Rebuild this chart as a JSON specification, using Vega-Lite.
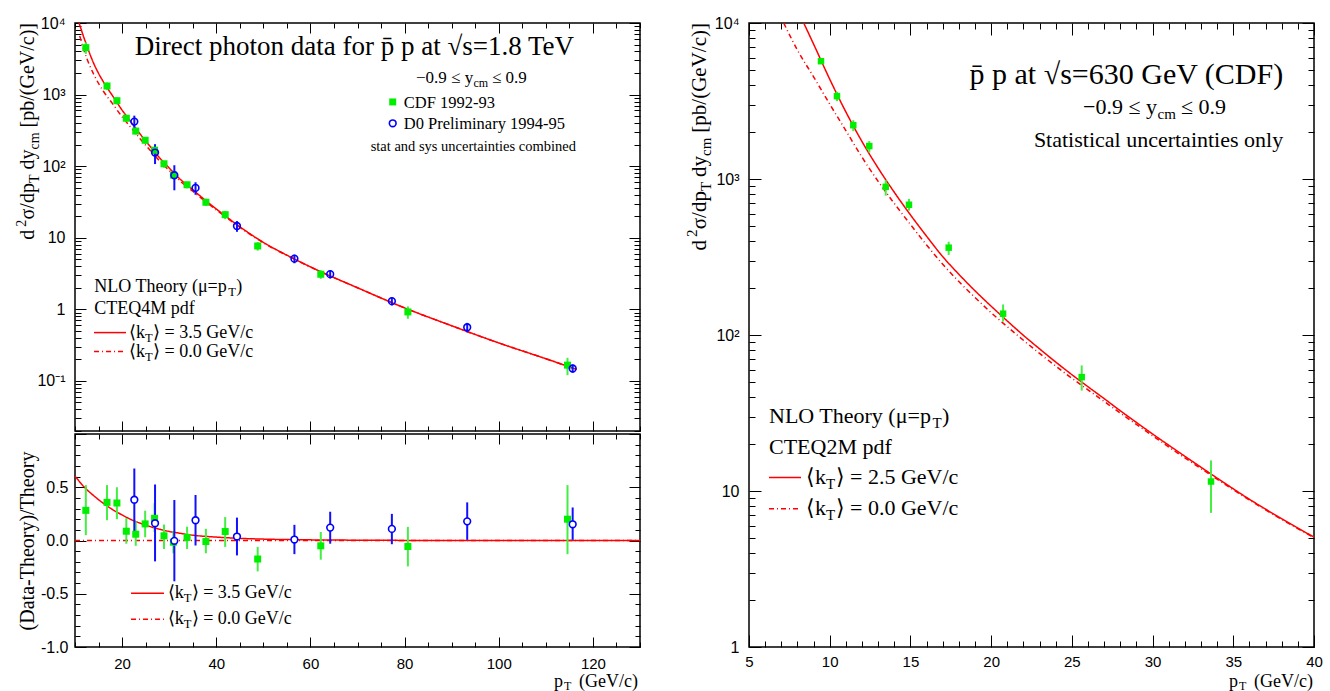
{
  "$schema": "https://vega.github.io/schema/vega-lite/v6.json",
  "background": "white",
  "padding": {"left": 14, "top": 14, "right": 5, "bottom": 0},
  "config": {
    "view": {"stroke": "black", "strokeWidth": 1.5},
    "axis": {"domain": false, "grid": false, "tickColor": "black", "tickWidth": 1, "labelFont": "Liberation Sans", "labelFontSize": 16, "labelColor": "black", "titleFont": "Liberation Serif", "titleFontWeight": "normal", "titleColor": "black", "titleFontSize": 20, "labelOverlap": false, "labelFlush": false},
    "text": {"font": "Liberation Serif", "color": "black"}
  },
  "datasets": {
    "photon18": [
      {"exp": "CDF", "pt": 12.3, "val": 4520, "lo": 3700, "hi": 5355},
      {"exp": "CDF", "pt": 16.8, "val": 1318, "lo": 1154, "hi": 1474},
      {"exp": "CDF", "pt": 18.9, "val": 822, "lo": 730, "hi": 912},
      {"exp": "CDF", "pt": 20.9, "val": 467, "lo": 417, "hi": 520},
      {"exp": "CDF", "pt": 22.9, "val": 309, "lo": 277, "hi": 345},
      {"exp": "CDF", "pt": 24.9, "val": 230, "lo": 205, "hi": 255},
      {"exp": "CDF", "pt": 26.9, "val": 167, "lo": 149, "hi": 186},
      {"exp": "CDF", "pt": 28.9, "val": 108, "lo": 95, "hi": 118},
      {"exp": "CDF", "pt": 30.9, "val": 75, "lo": 67, "hi": 83},
      {"exp": "CDF", "pt": 33.8, "val": 55, "lo": 49, "hi": 60.5},
      {"exp": "CDF", "pt": 37.8, "val": 31.3, "lo": 27.8, "hi": 35.1},
      {"exp": "CDF", "pt": 41.9, "val": 21, "lo": 18.2, "hi": 23.7},
      {"exp": "CDF", "pt": 48.8, "val": 7.67, "lo": 6.6, "hi": 8.7},
      {"exp": "CDF", "pt": 62.2, "val": 3.09, "lo": 2.67, "hi": 3.51},
      {"exp": "CDF", "pt": 80.7, "val": 0.92, "lo": 0.738, "hi": 1.1},
      {"exp": "CDF", "pt": 114.6, "val": 0.166, "lo": 0.12, "hi": 0.21},
      {"exp": "D0", "pt": 22.6, "val": 419, "lo": 328, "hi": 508},
      {"exp": "D0", "pt": 27.0, "val": 155, "lo": 107, "hi": 203},
      {"exp": "D0", "pt": 31.1, "val": 74.6, "lo": 46, "hi": 103},
      {"exp": "D0", "pt": 35.6, "val": 49.7, "lo": 39.8, "hi": 59.6},
      {"exp": "D0", "pt": 44.4, "val": 14.6, "lo": 12.1, "hi": 17.1},
      {"exp": "D0", "pt": 56.6, "val": 5.1, "lo": 4.4, "hi": 5.79},
      {"exp": "D0", "pt": 64.2, "val": 3.1, "lo": 2.69, "hi": 3.52},
      {"exp": "D0", "pt": 77.3, "val": 1.3, "lo": 1.13, "hi": 1.46},
      {"exp": "D0", "pt": 93.3, "val": 0.562, "lo": 0.479, "hi": 0.646},
      {"exp": "D0", "pt": 115.7, "val": 0.149, "lo": 0.13, "hi": 0.169}
    ],
    "theory18": [
      {"curve": "kt35", "pt": 10.8, "val": 10300}, {"curve": "kt35", "pt": 12, "val": 5970}, {"curve": "kt35", "pt": 14, "val": 2704}, {"curve": "kt35", "pt": 16, "val": 1514}, {"curve": "kt35", "pt": 18, "val": 957}, {"curve": "kt35", "pt": 20, "val": 607}, {"curve": "kt35", "pt": 22, "val": 405}, {"curve": "kt35", "pt": 24, "val": 272}, {"curve": "kt35", "pt": 26, "val": 187.5}, {"curve": "kt35", "pt": 28, "val": 129.7}, {"curve": "kt35", "pt": 30, "val": 94.4}, {"curve": "kt35", "pt": 32, "val": 69.0}, {"curve": "kt35", "pt": 35, "val": 46.9}, {"curve": "kt35", "pt": 38, "val": 32.1}, {"curve": "kt35", "pt": 42, "val": 20.0}, {"curve": "kt35", "pt": 46, "val": 12.8}, {"curve": "kt35", "pt": 50, "val": 8.63}, {"curve": "kt35", "pt": 56, "val": 5.28}, {"curve": "kt35", "pt": 62, "val": 3.40}, {"curve": "kt35", "pt": 70, "val": 2.0}, {"curve": "kt35", "pt": 80, "val": 1.047}, {"curve": "kt35", "pt": 90, "val": 0.589}, {"curve": "kt35", "pt": 100, "val": 0.339}, {"curve": "kt35", "pt": 110, "val": 0.204}, {"curve": "kt35", "pt": 116.5, "val": 0.145},
      {"curve": "kt0", "pt": 11.0, "val": 6600}, {"curve": "kt0", "pt": 12, "val": 3981}, {"curve": "kt0", "pt": 14, "val": 1905}, {"curve": "kt0", "pt": 16, "val": 1122}, {"curve": "kt0", "pt": 18, "val": 741}, {"curve": "kt0", "pt": 20, "val": 490}, {"curve": "kt0", "pt": 22, "val": 339}, {"curve": "kt0", "pt": 24, "val": 234}, {"curve": "kt0", "pt": 26, "val": 166}, {"curve": "kt0", "pt": 28, "val": 117.5}, {"curve": "kt0", "pt": 30, "val": 87.1}, {"curve": "kt0", "pt": 32, "val": 64.6}, {"curve": "kt0", "pt": 35, "val": 44.7}, {"curve": "kt0", "pt": 38, "val": 30.9}, {"curve": "kt0", "pt": 42, "val": 19.5}, {"curve": "kt0", "pt": 46, "val": 12.6}, {"curve": "kt0", "pt": 50, "val": 8.51}, {"curve": "kt0", "pt": 56, "val": 5.25}, {"curve": "kt0", "pt": 62, "val": 3.39}, {"curve": "kt0", "pt": 70, "val": 2.0}, {"curve": "kt0", "pt": 80, "val": 1.047}, {"curve": "kt0", "pt": 90, "val": 0.589}, {"curve": "kt0", "pt": 100, "val": 0.339}, {"curve": "kt0", "pt": 110, "val": 0.204}, {"curve": "kt0", "pt": 116.5, "val": 0.145}
    ],
    "ratio18": [
      {"exp": "CDF", "pt": 12.3, "r": 0.283, "lo": 0.05, "hi": 0.52},
      {"exp": "CDF", "pt": 16.8, "r": 0.358, "lo": 0.19, "hi": 0.52},
      {"exp": "CDF", "pt": 18.9, "r": 0.352, "lo": 0.2, "hi": 0.5},
      {"exp": "CDF", "pt": 20.9, "r": 0.087, "lo": -0.03, "hi": 0.21},
      {"exp": "CDF", "pt": 22.9, "r": 0.059, "lo": -0.05, "hi": 0.18},
      {"exp": "CDF", "pt": 24.9, "r": 0.156, "lo": 0.03, "hi": 0.28},
      {"exp": "CDF", "pt": 26.9, "r": 0.208, "lo": 0.08, "hi": 0.35},
      {"exp": "CDF", "pt": 28.9, "r": 0.044, "lo": -0.08, "hi": 0.15},
      {"exp": "CDF", "pt": 30.9, "r": -0.016, "lo": -0.12, "hi": 0.09},
      {"exp": "CDF", "pt": 33.8, "r": 0.028, "lo": -0.08, "hi": 0.13},
      {"exp": "CDF", "pt": 37.8, "r": -0.01, "lo": -0.12, "hi": 0.11},
      {"exp": "CDF", "pt": 41.9, "r": 0.084, "lo": -0.06, "hi": 0.22},
      {"exp": "CDF", "pt": 48.8, "r": -0.174, "lo": -0.29, "hi": -0.06},
      {"exp": "CDF", "pt": 62.2, "r": -0.05, "lo": -0.18, "hi": 0.08},
      {"exp": "CDF", "pt": 80.7, "r": -0.056, "lo": -0.243, "hi": 0.128},
      {"exp": "CDF", "pt": 114.6, "r": 0.2, "lo": -0.128, "hi": 0.52},
      {"exp": "D0", "pt": 22.6, "r": 0.383, "lo": 0.084, "hi": 0.676},
      {"exp": "D0", "pt": 27.0, "r": 0.162, "lo": -0.196, "hi": 0.526},
      {"exp": "D0", "pt": 31.1, "r": -0.003, "lo": -0.383, "hi": 0.38},
      {"exp": "D0", "pt": 35.6, "r": 0.19, "lo": -0.047, "hi": 0.427},
      {"exp": "D0", "pt": 44.4, "r": 0.037, "lo": -0.14, "hi": 0.215},
      {"exp": "D0", "pt": 56.6, "r": 0.009, "lo": -0.128, "hi": 0.147},
      {"exp": "D0", "pt": 64.2, "r": 0.121, "lo": -0.03, "hi": 0.27},
      {"exp": "D0", "pt": 77.3, "r": 0.109, "lo": -0.035, "hi": 0.25},
      {"exp": "D0", "pt": 93.3, "r": 0.18, "lo": 0.006, "hi": 0.358},
      {"exp": "D0", "pt": 115.7, "r": 0.152, "lo": 0.006, "hi": 0.31}
    ],
    "ratiotheory18": [
      {"curve": "kt35", "pt": 10, "r": 0.605}, {"curve": "kt35", "pt": 12, "r": 0.50}, {"curve": "kt35", "pt": 14, "r": 0.42}, {"curve": "kt35", "pt": 16, "r": 0.35}, {"curve": "kt35", "pt": 18, "r": 0.29}, {"curve": "kt35", "pt": 20, "r": 0.24}, {"curve": "kt35", "pt": 22, "r": 0.195}, {"curve": "kt35", "pt": 24, "r": 0.16}, {"curve": "kt35", "pt": 26, "r": 0.13}, {"curve": "kt35", "pt": 28, "r": 0.105}, {"curve": "kt35", "pt": 30, "r": 0.085}, {"curve": "kt35", "pt": 32, "r": 0.07}, {"curve": "kt35", "pt": 35, "r": 0.05}, {"curve": "kt35", "pt": 40, "r": 0.032}, {"curve": "kt35", "pt": 45, "r": 0.02}, {"curve": "kt35", "pt": 50, "r": 0.013}, {"curve": "kt35", "pt": 60, "r": 0.006}, {"curve": "kt35", "pt": 70, "r": 0.003}, {"curve": "kt35", "pt": 80, "r": 0.001}, {"curve": "kt35", "pt": 100, "r": 0}, {"curve": "kt35", "pt": 130, "r": 0},
      {"curve": "kt0", "pt": 10, "r": 0}, {"curve": "kt0", "pt": 130, "r": 0}
    ],
    "photon630": [
      {"exp": "CDF", "pt": 9.46, "val": 5690, "lo": 5470, "hi": 5920},
      {"exp": "CDF", "pt": 10.45, "val": 3398, "lo": 3155, "hi": 3622},
      {"exp": "CDF", "pt": 11.46, "val": 2213, "lo": 2028, "hi": 2382},
      {"exp": "CDF", "pt": 12.45, "val": 1626, "lo": 1479, "hi": 1750},
      {"exp": "CDF", "pt": 13.47, "val": 891, "lo": 782, "hi": 984},
      {"exp": "CDF", "pt": 14.91, "val": 684, "lo": 627, "hi": 745},
      {"exp": "CDF", "pt": 17.37, "val": 363, "lo": 326, "hi": 396},
      {"exp": "CDF", "pt": 20.74, "val": 137, "lo": 122, "hi": 157},
      {"exp": "CDF", "pt": 25.61, "val": 53.7, "lo": 44.0, "hi": 63.8},
      {"exp": "CDF", "pt": 33.62, "val": 11.5, "lo": 7.24, "hi": 15.7}
    ],
    "theory630": [
      {"curve": "kt25", "pt": 8.39, "val": 10000}, {"curve": "kt25", "pt": 9, "val": 7328}, {"curve": "kt25", "pt": 10, "val": 4365}, {"curve": "kt25", "pt": 11, "val": 2692}, {"curve": "kt25", "pt": 12, "val": 1738}, {"curve": "kt25", "pt": 13, "val": 1175}, {"curve": "kt25", "pt": 14, "val": 822}, {"curve": "kt25", "pt": 15, "val": 589}, {"curve": "kt25", "pt": 16, "val": 430}, {"curve": "kt25", "pt": 17, "val": 318}, {"curve": "kt25", "pt": 18, "val": 245}, {"curve": "kt25", "pt": 19, "val": 192}, {"curve": "kt25", "pt": 20, "val": 153}, {"curve": "kt25", "pt": 21, "val": 123}, {"curve": "kt25", "pt": 22, "val": 99.5}, {"curve": "kt25", "pt": 23, "val": 81.5}, {"curve": "kt25", "pt": 24, "val": 67.1}, {"curve": "kt25", "pt": 25, "val": 55.7}, {"curve": "kt25", "pt": 26, "val": 46.6}, {"curve": "kt25", "pt": 27, "val": 39.1}, {"curve": "kt25", "pt": 28, "val": 32.7}, {"curve": "kt25", "pt": 29, "val": 27.5}, {"curve": "kt25", "pt": 30, "val": 23.2}, {"curve": "kt25", "pt": 32, "val": 16.7}, {"curve": "kt25", "pt": 34, "val": 12.1}, {"curve": "kt25", "pt": 36, "val": 8.85}, {"curve": "kt25", "pt": 38, "val": 6.64}, {"curve": "kt25", "pt": 40, "val": 5.06},
      {"curve": "kt0", "pt": 7.15, "val": 10000}, {"curve": "kt0", "pt": 8, "val": 6700}, {"curve": "kt0", "pt": 9, "val": 4519}, {"curve": "kt0", "pt": 10, "val": 3020}, {"curve": "kt0", "pt": 11, "val": 2042}, {"curve": "kt0", "pt": 12, "val": 1380}, {"curve": "kt0", "pt": 13, "val": 966}, {"curve": "kt0", "pt": 14, "val": 697}, {"curve": "kt0", "pt": 15, "val": 511}, {"curve": "kt0", "pt": 16, "val": 378}, {"curve": "kt0", "pt": 17, "val": 284}, {"curve": "kt0", "pt": 18, "val": 220}, {"curve": "kt0", "pt": 19, "val": 174}, {"curve": "kt0", "pt": 20, "val": 139}, {"curve": "kt0", "pt": 21, "val": 113}, {"curve": "kt0", "pt": 22, "val": 92.5}, {"curve": "kt0", "pt": 23, "val": 76.2}, {"curve": "kt0", "pt": 24, "val": 63.2}, {"curve": "kt0", "pt": 25, "val": 52.8}, {"curve": "kt0", "pt": 26, "val": 44.5}, {"curve": "kt0", "pt": 27, "val": 37.5}, {"curve": "kt0", "pt": 28, "val": 31.6}, {"curve": "kt0", "pt": 29, "val": 26.7}, {"curve": "kt0", "pt": 30, "val": 22.6}, {"curve": "kt0", "pt": 32, "val": 16.3}, {"curve": "kt0", "pt": 34, "val": 11.9}, {"curve": "kt0", "pt": 36, "val": 8.75}, {"curve": "kt0", "pt": 38, "val": 6.58}, {"curve": "kt0", "pt": 40, "val": 5.02}
    ]
  },
  "align": "each",
  "spacing": 42,
  "hconcat": [
    {
      "bounds": "flush",
      "spacing": 3,
      "vconcat": [
        {
          "width": 565, "height": 408,
          "resolve": {"axis": {"x": "independent", "y": "independent"}},
          "layer": [
            {
              "data": {"name": "theory18"},
              "mark": {"type": "line", "color": "#ff0000", "strokeWidth": 1.5, "clip": true, "interpolate": "monotone"},
              "encoding": {
                "x": {"field": "pt", "type": "quantitative", "scale": {"domain": [10, 130], "nice": false, "zero": false},
                      "axis": {"orient": "bottom", "title": null, "labels": false, "values": [10,15,20,25,30,35,40,45,50,55,60,65,70,75,80,85,90,95,100,105,110,115,120,125,130], "tickSize": {"condition": {"test": "datum.value % 20 === 0", "value": -10}, "value": -5}}},
                "y": {"field": "val", "type": "quantitative", "scale": {"type": "log", "domain": [0.01995, 10000], "nice": false},
                      "axis": {"orient": "left", "title": null, "labelPadding": 21, "values": [0.02,0.03,0.04,0.05,0.06,0.07,0.08,0.09,0.1,0.2,0.3,0.4,0.5,0.6,0.7,0.8,0.9,1,2,3,4,5,6,7,8,9,10,20,30,40,50,60,70,80,90,100,200,300,400,500,600,700,800,900,1000,2000,3000,4000,5000,6000,7000,8000,9000,10000],
                               "labelExpr": "datum.value === 10000 ? '10⁴' : datum.value === 1000 ? '10³' : datum.value === 100 ? '10²' : datum.value === 10 ? '10' : datum.value === 1 ? '1' : datum.value === 0.1 ? '10⁻¹' : ''",
                               "tickSize": {"condition": {"test": "indexof([0.1,1,10,100,1000,10000], datum.value) >= 0", "value": -11}, "value": -6}}},
                "strokeDash": {"field": "curve", "type": "nominal", "scale": {"domain": ["kt35", "kt0"], "range": [[1, 0], [5, 3, 1, 3]]}, "legend": null}
              }
            },
            {
              "data": {"name": "photon18"},
              "mark": {"type": "rule", "strokeWidth": 2},
              "encoding": {
                "x": {"field": "pt", "type": "quantitative", "axis": {"orient": "top", "title": null, "labels": false, "values": [10,15,20,25,30,35,40,45,50,55,60,65,70,75,80,85,90,95,100,105,110,115,120,125,130], "tickSize": {"condition": {"test": "datum.value % 20 === 0", "value": -10}, "value": -5}}},
                "y": {"field": "lo", "type": "quantitative", "axis": {"orient": "right", "title": null, "labels": false, "values": [0.02,0.03,0.04,0.05,0.06,0.07,0.08,0.09,0.1,0.2,0.3,0.4,0.5,0.6,0.7,0.8,0.9,1,2,3,4,5,6,7,8,9,10,20,30,40,50,60,70,80,90,100,200,300,400,500,600,700,800,900,1000,2000,3000,4000,5000,6000,7000,8000,9000,10000], "tickSize": {"condition": {"test": "indexof([0.1,1,10,100,1000,10000], datum.value) >= 0", "value": -11}, "value": -6}}},
                "y2": {"field": "hi"},
                "color": {"field": "exp", "type": "nominal", "scale": {"domain": ["CDF", "D0"], "range": ["#44ee44", "#1111ff"]}, "legend": null}
              }
            },
            {
              "data": {"name": "photon18"},
              "transform": [{"filter": "datum.exp === 'CDF'"}],
              "mark": {"type": "square", "color": "#00ee00", "size": 49, "opacity": 1},
              "encoding": {"x": {"field": "pt", "type": "quantitative", "axis": null}, "y": {"field": "val", "type": "quantitative", "axis": null}}
            },
            {
              "data": {"name": "photon18"},
              "transform": [{"filter": "datum.exp === 'D0'"}],
              "mark": {"type": "point", "shape": "circle", "filled": false, "color": "#0000ff", "strokeWidth": 1.6, "size": 45, "opacity": 1},
              "encoding": {"x": {"field": "pt", "type": "quantitative", "axis": null}, "y": {"field": "val", "type": "quantitative", "axis": null}}
            },
            {"data": {"values": [{}]}, "mark": {"type": "text", "text": "Direct photon data for p̄ p at √s=1.8 TeV", "fontSize": 27, "align": "right", "baseline": "alphabetic"},
             "encoding": {"x": {"datum": 116.0, "type": "quantitative", "axis": null}, "y": {"datum": 3573, "type": "quantitative", "axis": null}}},
            {"data": {"values": [{}]}, "mark": {"type": "text", "text": "−0.9 ≤ y", "fontSize": 17, "align": "left", "baseline": "alphabetic"},
             "encoding": {"x": {"datum": 82.43, "type": "quantitative", "axis": null}, "y": {"datum": 1452, "type": "quantitative", "axis": null}}},
            {"data": {"values": [{}]}, "mark": {"type": "text", "text": "cm", "fontSize": 12, "align": "left", "baseline": "alphabetic", "dx": 57.5, "dy": 4},
             "encoding": {"x": {"datum": 82.43, "type": "quantitative", "axis": null}, "y": {"datum": 1452, "type": "quantitative", "axis": null}}},
            {"data": {"values": [{}]}, "mark": {"type": "text", "text": "≤ 0.9", "fontSize": 17, "align": "left", "baseline": "alphabetic", "dx": 76},
             "encoding": {"x": {"datum": 82.43, "type": "quantitative", "axis": null}, "y": {"datum": 1452, "type": "quantitative", "axis": null}}},
            {"data": {"values": [{}]}, "mark": {"type": "square", "color": "#00ee00", "size": 49, "opacity": 1},
             "encoding": {"x": {"datum": 77.48, "type": "quantitative", "axis": null}, "y": {"datum": 789, "type": "quantitative", "axis": null}}},
            {"data": {"values": [{}]}, "mark": {"type": "text", "text": "CDF 1992-93", "fontSize": 16.5, "align": "left", "baseline": "middle", "dx": 11, "dy": 1},
             "encoding": {"x": {"datum": 77.48, "type": "quantitative", "axis": null}, "y": {"datum": 789, "type": "quantitative", "axis": null}}},
            {"data": {"values": [{}]}, "mark": {"type": "point", "shape": "circle", "filled": false, "color": "#0000ff", "strokeWidth": 1.6, "size": 45, "opacity": 1},
             "encoding": {"x": {"datum": 77.48, "type": "quantitative", "axis": null}, "y": {"datum": 397, "type": "quantitative", "axis": null}}},
            {"data": {"values": [{}]}, "mark": {"type": "text", "text": "D0 Preliminary 1994-95", "fontSize": 16.5, "align": "left", "baseline": "middle", "dx": 11, "dy": 1},
             "encoding": {"x": {"datum": 77.48, "type": "quantitative", "axis": null}, "y": {"datum": 397, "type": "quantitative", "axis": null}}},
            {"data": {"values": [{}]}, "mark": {"type": "text", "text": "stat and sys uncertainties combined", "fontSize": 14.5, "align": "right", "baseline": "alphabetic"},
             "encoding": {"x": {"datum": 116.41, "type": "quantitative", "axis": null}, "y": {"datum": 163, "type": "quantitative", "axis": null}}},
            {"data": {"values": [{}]}, "mark": {"type": "text", "text": "NLO Theory (μ=p", "fontSize": 18, "align": "left", "baseline": "alphabetic"},
             "encoding": {"x": {"datum": 14.1, "type": "quantitative", "axis": null}, "y": {"datum": 1.766, "type": "quantitative", "axis": null}}},
            {"data": {"values": [{}]}, "mark": {"type": "text", "text": "T", "fontSize": 12.5, "align": "left", "baseline": "alphabetic", "dx": 134, "dy": 4},
             "encoding": {"x": {"datum": 14.1, "type": "quantitative", "axis": null}, "y": {"datum": 1.766, "type": "quantitative", "axis": null}}},
            {"data": {"values": [{}]}, "mark": {"type": "text", "text": ")", "fontSize": 18, "align": "left", "baseline": "alphabetic", "dx": 142},
             "encoding": {"x": {"datum": 14.1, "type": "quantitative", "axis": null}, "y": {"datum": 1.766, "type": "quantitative", "axis": null}}},
            {"data": {"values": [{}]}, "mark": {"type": "text", "text": "CTEQ4M pdf", "fontSize": 18, "align": "left", "baseline": "alphabetic"},
             "encoding": {"x": {"datum": 14.1, "type": "quantitative", "axis": null}, "y": {"datum": 0.855, "type": "quantitative", "axis": null}}},
            {"data": {"values": [{}]}, "mark": {"type": "rule", "color": "#ff0000", "strokeWidth": 1.5},
             "encoding": {"x": {"datum": 14.04, "type": "quantitative", "axis": null}, "x2": {"datum": 20.83}, "y": {"datum": 0.473, "type": "quantitative", "axis": null}}},
            {"data": {"values": [{}]}, "mark": {"type": "text", "text": "⟨k", "fontSize": 18, "align": "left", "baseline": "alphabetic", "dx": 3, "dy": 5},
             "encoding": {"x": {"datum": 20.83, "type": "quantitative", "axis": null}, "y": {"datum": 0.473, "type": "quantitative", "axis": null}}},
            {"data": {"values": [{}]}, "mark": {"type": "text", "text": "T", "fontSize": 12.5, "align": "left", "baseline": "alphabetic", "dx": 19, "dy": 9},
             "encoding": {"x": {"datum": 20.83, "type": "quantitative", "axis": null}, "y": {"datum": 0.473, "type": "quantitative", "axis": null}}},
            {"data": {"values": [{}]}, "mark": {"type": "text", "text": "⟩ = 3.5 GeV/c", "fontSize": 18, "align": "left", "baseline": "alphabetic", "dx": 27, "dy": 5},
             "encoding": {"x": {"datum": 20.83, "type": "quantitative", "axis": null}, "y": {"datum": 0.473, "type": "quantitative", "axis": null}}},
            {"data": {"values": [{}]}, "mark": {"type": "rule", "color": "#ff0000", "strokeWidth": 1.5, "strokeDash": [5, 3, 1, 3]},
             "encoding": {"x": {"datum": 14.04, "type": "quantitative", "axis": null}, "x2": {"datum": 20.83}, "y": {"datum": 0.2565, "type": "quantitative", "axis": null}}},
            {"data": {"values": [{}]}, "mark": {"type": "text", "text": "⟨k", "fontSize": 18, "align": "left", "baseline": "alphabetic", "dx": 3, "dy": 5},
             "encoding": {"x": {"datum": 20.83, "type": "quantitative", "axis": null}, "y": {"datum": 0.2565, "type": "quantitative", "axis": null}}},
            {"data": {"values": [{}]}, "mark": {"type": "text", "text": "T", "fontSize": 12.5, "align": "left", "baseline": "alphabetic", "dx": 19, "dy": 9},
             "encoding": {"x": {"datum": 20.83, "type": "quantitative", "axis": null}, "y": {"datum": 0.2565, "type": "quantitative", "axis": null}}},
            {"data": {"values": [{}]}, "mark": {"type": "text", "text": "⟩ = 0.0 GeV/c", "fontSize": 18, "align": "left", "baseline": "alphabetic", "dx": 27, "dy": 5},
             "encoding": {"x": {"datum": 20.83, "type": "quantitative", "axis": null}, "y": {"datum": 0.2565, "type": "quantitative", "axis": null}}},
            {"data": {"values": [{}]}, "mark": {"type": "text", "text": "[pb/(GeV/c)]", "fontSize": 20, "angle": 270, "align": "right", "baseline": "alphabetic", "dx": 0, "dy": -41},
             "encoding": {"x": {"datum": 10, "type": "quantitative", "axis": null}, "y": {"datum": 10000, "type": "quantitative", "axis": null}}},
            {"data": {"values": [{}]}, "mark": {"type": "text", "text": "cm", "fontSize": 14, "angle": 270, "align": "right", "baseline": "alphabetic", "dx": -109.4, "dy": -36},
             "encoding": {"x": {"datum": 10, "type": "quantitative", "axis": null}, "y": {"datum": 10000, "type": "quantitative", "axis": null}}},
            {"data": {"values": [{}]}, "mark": {"type": "text", "text": "dy", "fontSize": 20, "angle": 270, "align": "right", "baseline": "alphabetic", "dx": -126.5, "dy": -41},
             "encoding": {"x": {"datum": 10, "type": "quantitative", "axis": null}, "y": {"datum": 10000, "type": "quantitative", "axis": null}}},
            {"data": {"values": [{}]}, "mark": {"type": "text", "text": "T", "fontSize": 14, "angle": 270, "align": "right", "baseline": "alphabetic", "dx": -151.5, "dy": -36},
             "encoding": {"x": {"datum": 10, "type": "quantitative", "axis": null}, "y": {"datum": 10000, "type": "quantitative", "axis": null}}},
            {"data": {"values": [{}]}, "mark": {"type": "text", "text": "σ/dp", "fontSize": 20, "angle": 270, "align": "right", "baseline": "alphabetic", "dx": -160.1, "dy": -41},
             "encoding": {"x": {"datum": 10, "type": "quantitative", "axis": null}, "y": {"datum": 10000, "type": "quantitative", "axis": null}}},
            {"data": {"values": [{}]}, "mark": {"type": "text", "text": "2", "fontSize": 14, "angle": 270, "align": "right", "baseline": "alphabetic", "dx": -196.7, "dy": -49},
             "encoding": {"x": {"datum": 10, "type": "quantitative", "axis": null}, "y": {"datum": 10000, "type": "quantitative", "axis": null}}},
            {"data": {"values": [{}]}, "mark": {"type": "text", "text": "d", "fontSize": 20, "angle": 270, "align": "right", "baseline": "alphabetic", "dx": -206.7, "dy": -41},
             "encoding": {"x": {"datum": 10, "type": "quantitative", "axis": null}, "y": {"datum": 10000, "type": "quantitative", "axis": null}}}
          ]
        },
        {
          "width": 565, "height": 213,
          "resolve": {"axis": {"x": "independent", "y": "independent"}},
          "layer": [
            {
              "data": {"name": "ratiotheory18"},
              "mark": {"type": "line", "color": "#ff0000", "strokeWidth": 1.5, "clip": true, "interpolate": "monotone"},
              "encoding": {
                "x": {"field": "pt", "type": "quantitative", "scale": {"domain": [10, 130], "nice": false, "zero": false},
                      "axis": {"orient": "bottom", "title": null, "labelPadding": 19, "labelFontSize": 15, "values": [10,15,20,25,30,35,40,45,50,55,60,65,70,75,80,85,90,95,100,105,110,115,120,125,130], "labelExpr": "datum.value % 20 === 0 ? datum.label : ''", "tickSize": {"condition": {"test": "datum.value % 20 === 0", "value": -10}, "value": -5}}},
                "y": {"field": "r", "type": "quantitative", "scale": {"domain": [-1, 1], "nice": false, "zero": false},
                      "axis": {"orient": "left", "title": "(Data-Theory)/Theory", "titlePadding": 3, "labelPadding": 18, "values": [-1,-0.9,-0.8,-0.7,-0.6,-0.5,-0.4,-0.3,-0.2,-0.1,0,0.1,0.2,0.3,0.4,0.5,0.6,0.7,0.8,0.9,1],
                               "labelExpr": "(abs(datum.value * 2 - round(datum.value * 2)) < 0.001 && datum.value < 0.9) ? replace(format(datum.value, '.1f'), '−', '-') : ''",
                               "tickSize": {"condition": {"test": "abs(datum.value * 2 - round(datum.value * 2)) < 0.001", "value": -11}, "value": -5}}},
                "strokeDash": {"field": "curve", "type": "nominal", "scale": {"domain": ["kt35", "kt0"], "range": [[1, 0], [5, 3, 1, 3]]}, "legend": null}
              }
            },
            {
              "data": {"name": "ratio18"},
              "mark": {"type": "rule", "strokeWidth": 2},
              "encoding": {
                "x": {"field": "pt", "type": "quantitative", "axis": {"orient": "top", "title": null, "labels": false, "values": [10,15,20,25,30,35,40,45,50,55,60,65,70,75,80,85,90,95,100,105,110,115,120,125,130], "tickSize": {"condition": {"test": "datum.value % 20 === 0", "value": -10}, "value": -5}}},
                "y": {"field": "lo", "type": "quantitative", "axis": {"orient": "right", "title": null, "labels": false, "values": [-1,-0.9,-0.8,-0.7,-0.6,-0.5,-0.4,-0.3,-0.2,-0.1,0,0.1,0.2,0.3,0.4,0.5,0.6,0.7,0.8,0.9,1], "tickSize": {"condition": {"test": "abs(datum.value * 2 - round(datum.value * 2)) < 0.001", "value": -11}, "value": -5}}},
                "y2": {"field": "hi"},
                "color": {"field": "exp", "type": "nominal", "scale": {"domain": ["CDF", "D0"], "range": ["#44ee44", "#1111ff"]}, "legend": null}
              }
            },
            {
              "data": {"name": "ratio18"},
              "transform": [{"filter": "datum.exp === 'CDF'"}],
              "mark": {"type": "square", "color": "#00ee00", "size": 49, "opacity": 1},
              "encoding": {"x": {"field": "pt", "type": "quantitative", "axis": null}, "y": {"field": "r", "type": "quantitative", "axis": null}}
            },
            {
              "data": {"name": "ratio18"},
              "transform": [{"filter": "datum.exp === 'D0'"}],
              "mark": {"type": "point", "shape": "circle", "filled": true, "fill": "white", "stroke": "#0000ff", "strokeWidth": 1.6, "size": 45, "opacity": 1},
              "encoding": {"x": {"field": "pt", "type": "quantitative", "axis": null}, "y": {"field": "r", "type": "quantitative", "axis": null}}
            },
            {"data": {"values": [{}]}, "mark": {"type": "rule", "color": "#ff0000", "strokeWidth": 1.5},
             "encoding": {"x": {"datum": 21.9, "type": "quantitative", "axis": null}, "x2": {"datum": 28.9}, "y": {"datum": -0.496, "type": "quantitative", "axis": null}}},
            {"data": {"values": [{}]}, "mark": {"type": "text", "text": "⟨k", "fontSize": 18, "align": "left", "baseline": "alphabetic", "dx": 3.7, "dy": 5},
             "encoding": {"x": {"datum": 28.9, "type": "quantitative", "axis": null}, "y": {"datum": -0.496, "type": "quantitative", "axis": null}}},
            {"data": {"values": [{}]}, "mark": {"type": "text", "text": "T", "fontSize": 12.5, "align": "left", "baseline": "alphabetic", "dx": 19.7, "dy": 9},
             "encoding": {"x": {"datum": 28.9, "type": "quantitative", "axis": null}, "y": {"datum": -0.496, "type": "quantitative", "axis": null}}},
            {"data": {"values": [{}]}, "mark": {"type": "text", "text": "⟩ = 3.5 GeV/c", "fontSize": 18, "align": "left", "baseline": "alphabetic", "dx": 27.7, "dy": 5},
             "encoding": {"x": {"datum": 28.9, "type": "quantitative", "axis": null}, "y": {"datum": -0.496, "type": "quantitative", "axis": null}}},
            {"data": {"values": [{}]}, "mark": {"type": "rule", "color": "#ff0000", "strokeWidth": 1.5, "strokeDash": [5, 3, 1, 3]},
             "encoding": {"x": {"datum": 21.9, "type": "quantitative", "axis": null}, "x2": {"datum": 28.9}, "y": {"datum": -0.74, "type": "quantitative", "axis": null}}},
            {"data": {"values": [{}]}, "mark": {"type": "text", "text": "⟨k", "fontSize": 18, "align": "left", "baseline": "alphabetic", "dx": 3.7, "dy": 5},
             "encoding": {"x": {"datum": 28.9, "type": "quantitative", "axis": null}, "y": {"datum": -0.74, "type": "quantitative", "axis": null}}},
            {"data": {"values": [{}]}, "mark": {"type": "text", "text": "T", "fontSize": 12.5, "align": "left", "baseline": "alphabetic", "dx": 19.7, "dy": 9},
             "encoding": {"x": {"datum": 28.9, "type": "quantitative", "axis": null}, "y": {"datum": -0.74, "type": "quantitative", "axis": null}}},
            {"data": {"values": [{}]}, "mark": {"type": "text", "text": "⟩ = 0.0 GeV/c", "fontSize": 18, "align": "left", "baseline": "alphabetic", "dx": 27.7, "dy": 5},
             "encoding": {"x": {"datum": 28.9, "type": "quantitative", "axis": null}, "y": {"datum": -0.74, "type": "quantitative", "axis": null}}},
            {"data": {"values": [{}]}, "mark": {"type": "text", "text": "(GeV/c)", "fontSize": 18, "align": "right", "baseline": "alphabetic", "dx": -2, "dy": 40},
             "encoding": {"x": {"datum": 130, "type": "quantitative", "axis": null}, "y": {"datum": -1, "type": "quantitative", "axis": null}}},
            {"data": {"values": [{}]}, "mark": {"type": "text", "text": "T", "fontSize": 12, "align": "left", "baseline": "alphabetic", "dx": -76, "dy": 43},
             "encoding": {"x": {"datum": 130, "type": "quantitative", "axis": null}, "y": {"datum": -1, "type": "quantitative", "axis": null}}},
            {"data": {"values": [{}]}, "mark": {"type": "text", "text": "p", "fontSize": 18, "align": "left", "baseline": "alphabetic", "dx": -86, "dy": 40},
             "encoding": {"x": {"datum": 130, "type": "quantitative", "axis": null}, "y": {"datum": -1, "type": "quantitative", "axis": null}}}
          ]
        }
      ]
    },
    {
      "width": 565, "height": 624,
      "resolve": {"axis": {"x": "independent", "y": "independent"}},
      "layer": [
        {
          "data": {"name": "theory630"},
          "mark": {"type": "line", "color": "#ff0000", "strokeWidth": 1.5, "clip": true, "interpolate": "monotone"},
          "encoding": {
            "x": {"field": "pt", "type": "quantitative", "scale": {"domain": [5, 40], "nice": false, "zero": false},
                  "axis": {"orient": "bottom", "title": null, "labelPadding": 19, "labelFontSize": 15, "values": [5,6,7,8,9,10,11,12,13,14,15,16,17,18,19,20,21,22,23,24,25,26,27,28,29,30,31,32,33,34,35,36,37,38,39,40], "labelExpr": "datum.value % 5 === 0 ? datum.label : ''", "tickSize": {"condition": {"test": "datum.value % 5 === 0", "value": -12}, "value": -6}}},
            "y": {"field": "val", "type": "quantitative", "scale": {"type": "log", "domain": [1, 10000], "nice": false},
                  "axis": {"orient": "left", "title": null, "labelPadding": 22, "values": [1,2,3,4,5,6,7,8,9,10,20,30,40,50,60,70,80,90,100,200,300,400,500,600,700,800,900,1000,2000,3000,4000,5000,6000,7000,8000,9000,10000],
                           "labelExpr": "datum.value === 10000 ? '10⁴' : datum.value === 1000 ? '10³' : datum.value === 100 ? '10²' : datum.value === 10 ? '10' : datum.value === 1 ? '1' : ''",
                           "tickSize": {"condition": {"test": "indexof([1,10,100,1000,10000], datum.value) >= 0", "value": -12}, "value": -6}}},
            "strokeDash": {"field": "curve", "type": "nominal", "scale": {"domain": ["kt25", "kt0"], "range": [[1, 0], [5, 3, 1, 3]]}, "legend": null}
          }
        },
        {
          "data": {"name": "photon630"},
          "mark": {"type": "rule", "strokeWidth": 2, "color": "#44ee44"},
          "encoding": {
            "x": {"field": "pt", "type": "quantitative", "axis": {"orient": "top", "title": null, "labels": false, "values": [5,6,7,8,9,10,11,12,13,14,15,16,17,18,19,20,21,22,23,24,25,26,27,28,29,30,31,32,33,34,35,36,37,38,39,40], "tickSize": {"condition": {"test": "datum.value % 5 === 0", "value": -12}, "value": -6}}},
            "y": {"field": "lo", "type": "quantitative", "axis": {"orient": "right", "title": null, "labels": false, "values": [1,2,3,4,5,6,7,8,9,10,20,30,40,50,60,70,80,90,100,200,300,400,500,600,700,800,900,1000,2000,3000,4000,5000,6000,7000,8000,9000,10000], "tickSize": {"condition": {"test": "indexof([1,10,100,1000,10000], datum.value) >= 0", "value": -12}, "value": -6}}},
            "y2": {"field": "hi"}
          }
        },
        {
          "data": {"name": "photon630"},
          "mark": {"type": "square", "color": "#00ee00", "size": 42, "opacity": 1},
          "encoding": {"x": {"field": "pt", "type": "quantitative", "axis": null}, "y": {"field": "val", "type": "quantitative", "axis": null}}
        },
        {"data": {"values": [{}]}, "mark": {"type": "text", "text": "p̄ p at √s=630 GeV (CDF)", "fontSize": 30, "align": "right", "baseline": "alphabetic"},
         "encoding": {"x": {"datum": 38.09, "type": "quantitative", "axis": null}, "y": {"datum": 4064, "type": "quantitative", "axis": null}}},
        {"data": {"values": [{}]}, "mark": {"type": "text", "text": "−0.9 ≤ y", "fontSize": 22, "align": "left", "baseline": "alphabetic"},
         "encoding": {"x": {"datum": 25.69, "type": "quantitative", "axis": null}, "y": {"datum": 2611, "type": "quantitative", "axis": null}}},
        {"data": {"values": [{}]}, "mark": {"type": "text", "text": "cm", "fontSize": 15, "align": "left", "baseline": "alphabetic", "dx": 74.5, "dy": 5},
         "encoding": {"x": {"datum": 25.69, "type": "quantitative", "axis": null}, "y": {"datum": 2611, "type": "quantitative", "axis": null}}},
        {"data": {"values": [{}]}, "mark": {"type": "text", "text": "≤ 0.9", "fontSize": 22, "align": "left", "baseline": "alphabetic", "dx": 98},
         "encoding": {"x": {"datum": 25.69, "type": "quantitative", "axis": null}, "y": {"datum": 2611, "type": "quantitative", "axis": null}}},
        {"data": {"values": [{}]}, "mark": {"type": "text", "text": "Statistical uncertainties only", "fontSize": 22, "align": "right", "baseline": "alphabetic"},
         "encoding": {"x": {"datum": 38.09, "type": "quantitative", "axis": null}, "y": {"datum": 1611, "type": "quantitative", "axis": null}}},
        {"data": {"values": [{}]}, "mark": {"type": "text", "text": "NLO Theory (μ=p", "fontSize": 22, "align": "left", "baseline": "alphabetic"},
         "encoding": {"x": {"datum": 6.239, "type": "quantitative", "axis": null}, "y": {"datum": 27.4, "type": "quantitative", "axis": null}}},
        {"data": {"values": [{}]}, "mark": {"type": "text", "text": "T", "fontSize": 15, "align": "left", "baseline": "alphabetic", "dx": 163.5, "dy": 5},
         "encoding": {"x": {"datum": 6.239, "type": "quantitative", "axis": null}, "y": {"datum": 27.4, "type": "quantitative", "axis": null}}},
        {"data": {"values": [{}]}, "mark": {"type": "text", "text": ")", "fontSize": 22, "align": "left", "baseline": "alphabetic", "dx": 173},
         "encoding": {"x": {"datum": 6.239, "type": "quantitative", "axis": null}, "y": {"datum": 27.4, "type": "quantitative", "axis": null}}},
        {"data": {"values": [{}]}, "mark": {"type": "text", "text": "CTEQ2M pdf", "fontSize": 22, "align": "left", "baseline": "alphabetic"},
         "encoding": {"x": {"datum": 6.239, "type": "quantitative", "axis": null}, "y": {"datum": 17.2, "type": "quantitative", "axis": null}}},
        {"data": {"values": [{}]}, "mark": {"type": "rule", "color": "#ff0000", "strokeWidth": 1.5},
         "encoding": {"x": {"datum": 6.239, "type": "quantitative", "axis": null}, "x2": {"datum": 8.222}, "y": {"datum": 12.2, "type": "quantitative", "axis": null}}},
        {"data": {"values": [{}]}, "mark": {"type": "text", "text": "⟨k", "fontSize": 22, "align": "left", "baseline": "alphabetic", "dx": 5, "dy": 6},
         "encoding": {"x": {"datum": 8.222, "type": "quantitative", "axis": null}, "y": {"datum": 12.2, "type": "quantitative", "axis": null}}},
        {"data": {"values": [{}]}, "mark": {"type": "text", "text": "T", "fontSize": 15, "align": "left", "baseline": "alphabetic", "dx": 25, "dy": 11},
         "encoding": {"x": {"datum": 8.222, "type": "quantitative", "axis": null}, "y": {"datum": 12.2, "type": "quantitative", "axis": null}}},
        {"data": {"values": [{}]}, "mark": {"type": "text", "text": "⟩ = 2.5 GeV/c", "fontSize": 22, "align": "left", "baseline": "alphabetic", "dx": 34.5, "dy": 6},
         "encoding": {"x": {"datum": 8.222, "type": "quantitative", "axis": null}, "y": {"datum": 12.2, "type": "quantitative", "axis": null}}},
        {"data": {"values": [{}]}, "mark": {"type": "rule", "color": "#ff0000", "strokeWidth": 1.5, "strokeDash": [5, 3, 1, 3]},
         "encoding": {"x": {"datum": 6.239, "type": "quantitative", "axis": null}, "x2": {"datum": 8.222}, "y": {"datum": 7.7, "type": "quantitative", "axis": null}}},
        {"data": {"values": [{}]}, "mark": {"type": "text", "text": "⟨k", "fontSize": 22, "align": "left", "baseline": "alphabetic", "dx": 5, "dy": 6},
         "encoding": {"x": {"datum": 8.222, "type": "quantitative", "axis": null}, "y": {"datum": 7.7, "type": "quantitative", "axis": null}}},
        {"data": {"values": [{}]}, "mark": {"type": "text", "text": "T", "fontSize": 15, "align": "left", "baseline": "alphabetic", "dx": 25, "dy": 11},
         "encoding": {"x": {"datum": 8.222, "type": "quantitative", "axis": null}, "y": {"datum": 7.7, "type": "quantitative", "axis": null}}},
        {"data": {"values": [{}]}, "mark": {"type": "text", "text": "⟩ = 0.0 GeV/c", "fontSize": 22, "align": "left", "baseline": "alphabetic", "dx": 34.5, "dy": 6},
         "encoding": {"x": {"datum": 8.222, "type": "quantitative", "axis": null}, "y": {"datum": 7.7, "type": "quantitative", "axis": null}}},
        {"data": {"values": [{}]}, "mark": {"type": "text", "text": "[pb/(GeV/c)]", "fontSize": 21, "angle": 270, "align": "right", "baseline": "alphabetic", "dx": 0, "dy": -43},
         "encoding": {"x": {"datum": 5, "type": "quantitative", "axis": null}, "y": {"datum": 10000, "type": "quantitative", "axis": null}}},
        {"data": {"values": [{}]}, "mark": {"type": "text", "text": "cm", "fontSize": 15, "angle": 270, "align": "right", "baseline": "alphabetic", "dx": -114.6, "dy": -38},
         "encoding": {"x": {"datum": 5, "type": "quantitative", "axis": null}, "y": {"datum": 10000, "type": "quantitative", "axis": null}}},
        {"data": {"values": [{}]}, "mark": {"type": "text", "text": "dy", "fontSize": 21, "angle": 270, "align": "right", "baseline": "alphabetic", "dx": -132.9, "dy": -43},
         "encoding": {"x": {"datum": 5, "type": "quantitative", "axis": null}, "y": {"datum": 10000, "type": "quantitative", "axis": null}}},
        {"data": {"values": [{}]}, "mark": {"type": "text", "text": "T", "fontSize": 15, "angle": 270, "align": "right", "baseline": "alphabetic", "dx": -158.9, "dy": -38},
         "encoding": {"x": {"datum": 5, "type": "quantitative", "axis": null}, "y": {"datum": 10000, "type": "quantitative", "axis": null}}},
        {"data": {"values": [{}]}, "mark": {"type": "text", "text": "σ/dp", "fontSize": 21, "angle": 270, "align": "right", "baseline": "alphabetic", "dx": -168.1, "dy": -43},
         "encoding": {"x": {"datum": 5, "type": "quantitative", "axis": null}, "y": {"datum": 10000, "type": "quantitative", "axis": null}}},
        {"data": {"values": [{}]}, "mark": {"type": "text", "text": "2", "fontSize": 15, "angle": 270, "align": "right", "baseline": "alphabetic", "dx": -206.5, "dy": -52},
         "encoding": {"x": {"datum": 5, "type": "quantitative", "axis": null}, "y": {"datum": 10000, "type": "quantitative", "axis": null}}},
        {"data": {"values": [{}]}, "mark": {"type": "text", "text": "d", "fontSize": 21, "angle": 270, "align": "right", "baseline": "alphabetic", "dx": -217, "dy": -43},
         "encoding": {"x": {"datum": 5, "type": "quantitative", "axis": null}, "y": {"datum": 10000, "type": "quantitative", "axis": null}}},
        {"data": {"values": [{}]}, "mark": {"type": "text", "text": "(GeV/c)", "fontSize": 18, "align": "right", "baseline": "alphabetic", "dx": -1, "dy": 40},
         "encoding": {"x": {"datum": 40, "type": "quantitative", "axis": null}, "y": {"datum": 1, "type": "quantitative", "axis": null}}},
        {"data": {"values": [{}]}, "mark": {"type": "text", "text": "T", "fontSize": 12, "align": "left", "baseline": "alphabetic", "dx": -75, "dy": 43},
         "encoding": {"x": {"datum": 40, "type": "quantitative", "axis": null}, "y": {"datum": 1, "type": "quantitative", "axis": null}}},
        {"data": {"values": [{}]}, "mark": {"type": "text", "text": "p", "fontSize": 18, "align": "left", "baseline": "alphabetic", "dx": -85, "dy": 40},
         "encoding": {"x": {"datum": 40, "type": "quantitative", "axis": null}, "y": {"datum": 1, "type": "quantitative", "axis": null}}}
      ]
    }
  ]
}
